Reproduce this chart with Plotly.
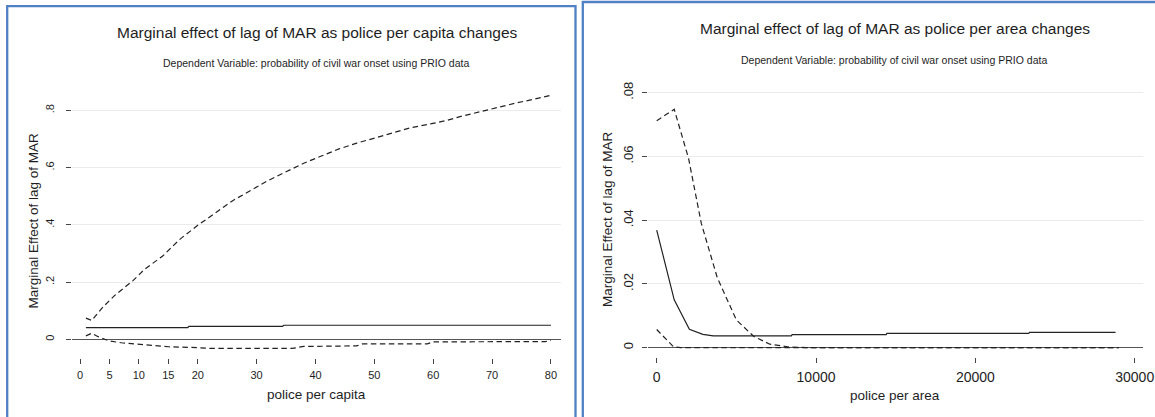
import plotly.graph_objects as go

W, H = 1155, 417

# ---------------- Left panel: police per capita ----------------
pc_upper_x = [1, 2, 4, 6, 9, 11, 14, 17, 20, 23, 26, 29, 32, 35, 38, 41, 44, 47, 50,
              53, 56, 59, 62, 65, 68, 71, 74, 77, 80]
pc_upper_y = [0.074, 0.066, 0.115, 0.155, 0.205, 0.245, 0.29, 0.35, 0.398, 0.44, 0.485,
              0.52, 0.555, 0.585, 0.615, 0.64, 0.665, 0.685, 0.703, 0.72, 0.738, 0.75,
              0.763, 0.78, 0.795, 0.812, 0.825, 0.838, 0.852]
pc_lower_x = [1, 2, 3, 5, 7, 10, 13, 15, 20, 22, 36, 38, 47, 48, 59, 60, 79, 80]
pc_lower_y = [0.012, 0.021, 0.01, -0.006, -0.012, -0.017, -0.023, -0.026, -0.029, -0.032,
              -0.032, -0.025, -0.023, -0.016, -0.016, -0.009, -0.008, -0.004]
pc_est_x = [1, 18.3, 18.5, 34.4, 34.6, 80]
pc_est_y = [0.041, 0.041, 0.045, 0.045, 0.049, 0.049]

pc_xticks = [0, 5, 10, 15, 20, 30, 40, 50, 60, 70, 80]
pc_yticks = [0, 0.2, 0.4, 0.6, 0.8]
pc_ytext = ["0", ".2", ".4", ".6", ".8"]

# ---------------- Right panel: police per area ----------------
pa_upper_x = [0, 1100, 2000, 2800, 3800, 5000, 6100, 7100, 8200, 9500, 29000]
pa_upper_y = [0.0712, 0.0748, 0.0594, 0.039, 0.022, 0.0087, 0.0035, 0.0011, 0.0003, 0.0, 0.0]
pa_lower_x = [0, 1050, 1500, 29000]
pa_lower_y = [0.0057, 0.0003, 0.0, 0.0]
pa_est_x = [0, 1100, 2050, 2900, 3550, 8450, 8500, 14400, 14450, 23350, 23400, 28800]
pa_est_y = [0.0369, 0.015, 0.0058, 0.0042, 0.0037, 0.0037, 0.0041, 0.0041, 0.0045,
            0.0045, 0.0048, 0.0048]

pa_xticks = [0, 10000, 20000, 30000]
pa_yticks = [0, 0.02, 0.04, 0.06, 0.08]
pa_ytext = ["0", ".02", ".04", ".06", ".08"]

FONT = "Arial, 'Liberation Sans', sans-serif"
TXT = "#1e1e1e"
LINE = "#222222"


def px(x):
    return x / W


def py(y):
    return 1 - y / H


fig = go.Figure()

dash = "5.5px,3.5px"
for xs, ys, d, ax in [
    (pc_upper_x, pc_upper_y, dash, ("x", "y")),
    (pc_lower_x, pc_lower_y, dash, ("x", "y")),
    (pc_est_x, pc_est_y, "solid", ("x", "y")),
    (pa_upper_x, pa_upper_y, dash, ("x2", "y2")),
    (pa_lower_x, pa_lower_y, dash, ("x2", "y2")),
    (pa_est_x, pa_est_y, "solid", ("x2", "y2")),
]:
    fig.add_trace(go.Scatter(x=xs, y=ys, mode="lines", xaxis=ax[0], yaxis=ax[1],
                             line=dict(color=LINE, width=1.2, dash=d),
                             showlegend=False, hoverinfo="skip"))

common_x = dict(showgrid=False, zeroline=False, showline=False, ticks="outside",
                ticklen=5, tickwidth=1.3, tickcolor="#444", automargin=False,
                ticklabelstandoff=2)
common_y = dict(showgrid=True, gridcolor="#ebebeb", gridwidth=1, zeroline=True,
                zerolinecolor="#555", zerolinewidth=1.3, showline=False, ticks="outside",
                ticklen=5, tickwidth=1.3, tickcolor="#444", tickangle=-90, automargin=False)

# Left axes: x(v)=80+5.8875v px, y(v)=339.3-286.3v px
fig.update_layout(
    xaxis=dict(domain=[px(72.3), px(561)], range=[-1.308, 81.70], tickmode="array",
               tickvals=pc_xticks, ticktext=[str(t) for t in pc_xticks], anchor="y",
               tickfont=dict(family=FONT, color=TXT, size=11), **common_x),
    yaxis=dict(domain=[py(357.5), py(88)], range=[-0.0636, 0.8777], tickmode="array",
               tickvals=pc_yticks, ticktext=pc_ytext, anchor="x", ticklabelstandoff=8,
               tickfont=dict(family=FONT, color=TXT, size=11), **common_y),
    xaxis2=dict(domain=[px(648.3), px(1143)], range=[-527, 30521], tickmode="array",
                tickvals=pa_xticks, ticktext=[str(t) for t in pa_xticks], anchor="y2",
                tickfont=dict(family=FONT, color=TXT, size=14), **common_x),
    yaxis2=dict(domain=[py(357), py(85)], range=[-0.00292, 0.08242], tickmode="array",
                tickvals=pa_yticks, ticktext=pa_ytext, anchor="x2", ticklabelstandoff=4,
                tickfont=dict(family=FONT, color=TXT, size=13), **common_y),
)

annots = [
    ("Marginal effect of lag of MAR as police per capita changes", 317, 32.3, 15.5, 0),
    ("Dependent Variable: probability of civil war onset using PRIO data", 316, 63.3, 10.5, 0),
    ("Marginal effect of lag of MAR as police per area changes", 895, 28.3, 15.5, 0),
    ("Dependent Variable: probability of civil war onset using PRIO data", 894, 60.3, 10.5, 0),
    ("Marginal Effect of lag of MAR", 32.5, 221, 13.5, -90),
    ("Marginal Effect of lag of MAR", 608, 219, 13.5, -90),
    ("police per capita", 316.5, 394, 13.5, 0),
    ("police per area", 894.7, 395, 13.5, 0),
]
fig.update_layout(annotations=[
    dict(text=t, x=px(x), y=py(y), xref="paper", yref="paper", xanchor="center",
         yanchor="middle", showarrow=False, textangle=a,
         font=dict(family=FONT, size=s, color=TXT))
    for t, x, y, s, a in annots
])

BLUE = "#4f81c4"
fig.update_layout(shapes=[
    dict(type="rect", xref="paper", yref="paper", x0=px(7.2), x1=px(575.5), y0=-0.2,
         y1=py(6.2), line=dict(color=BLUE, width=2.3), fillcolor="rgba(0,0,0,0)"),
    dict(type="rect", xref="paper", yref="paper", x0=px(582.8), x1=1.2, y0=-0.2,
         y1=py(2), line=dict(color=BLUE, width=2.3), fillcolor="rgba(0,0,0,0)"),
])

fig.update_layout(template="none", width=W, height=H, margin=dict(l=0, r=0, t=0, b=0, pad=0),
                  paper_bgcolor="white", plot_bgcolor="white", showlegend=False)

fig.write_html("out.html")
